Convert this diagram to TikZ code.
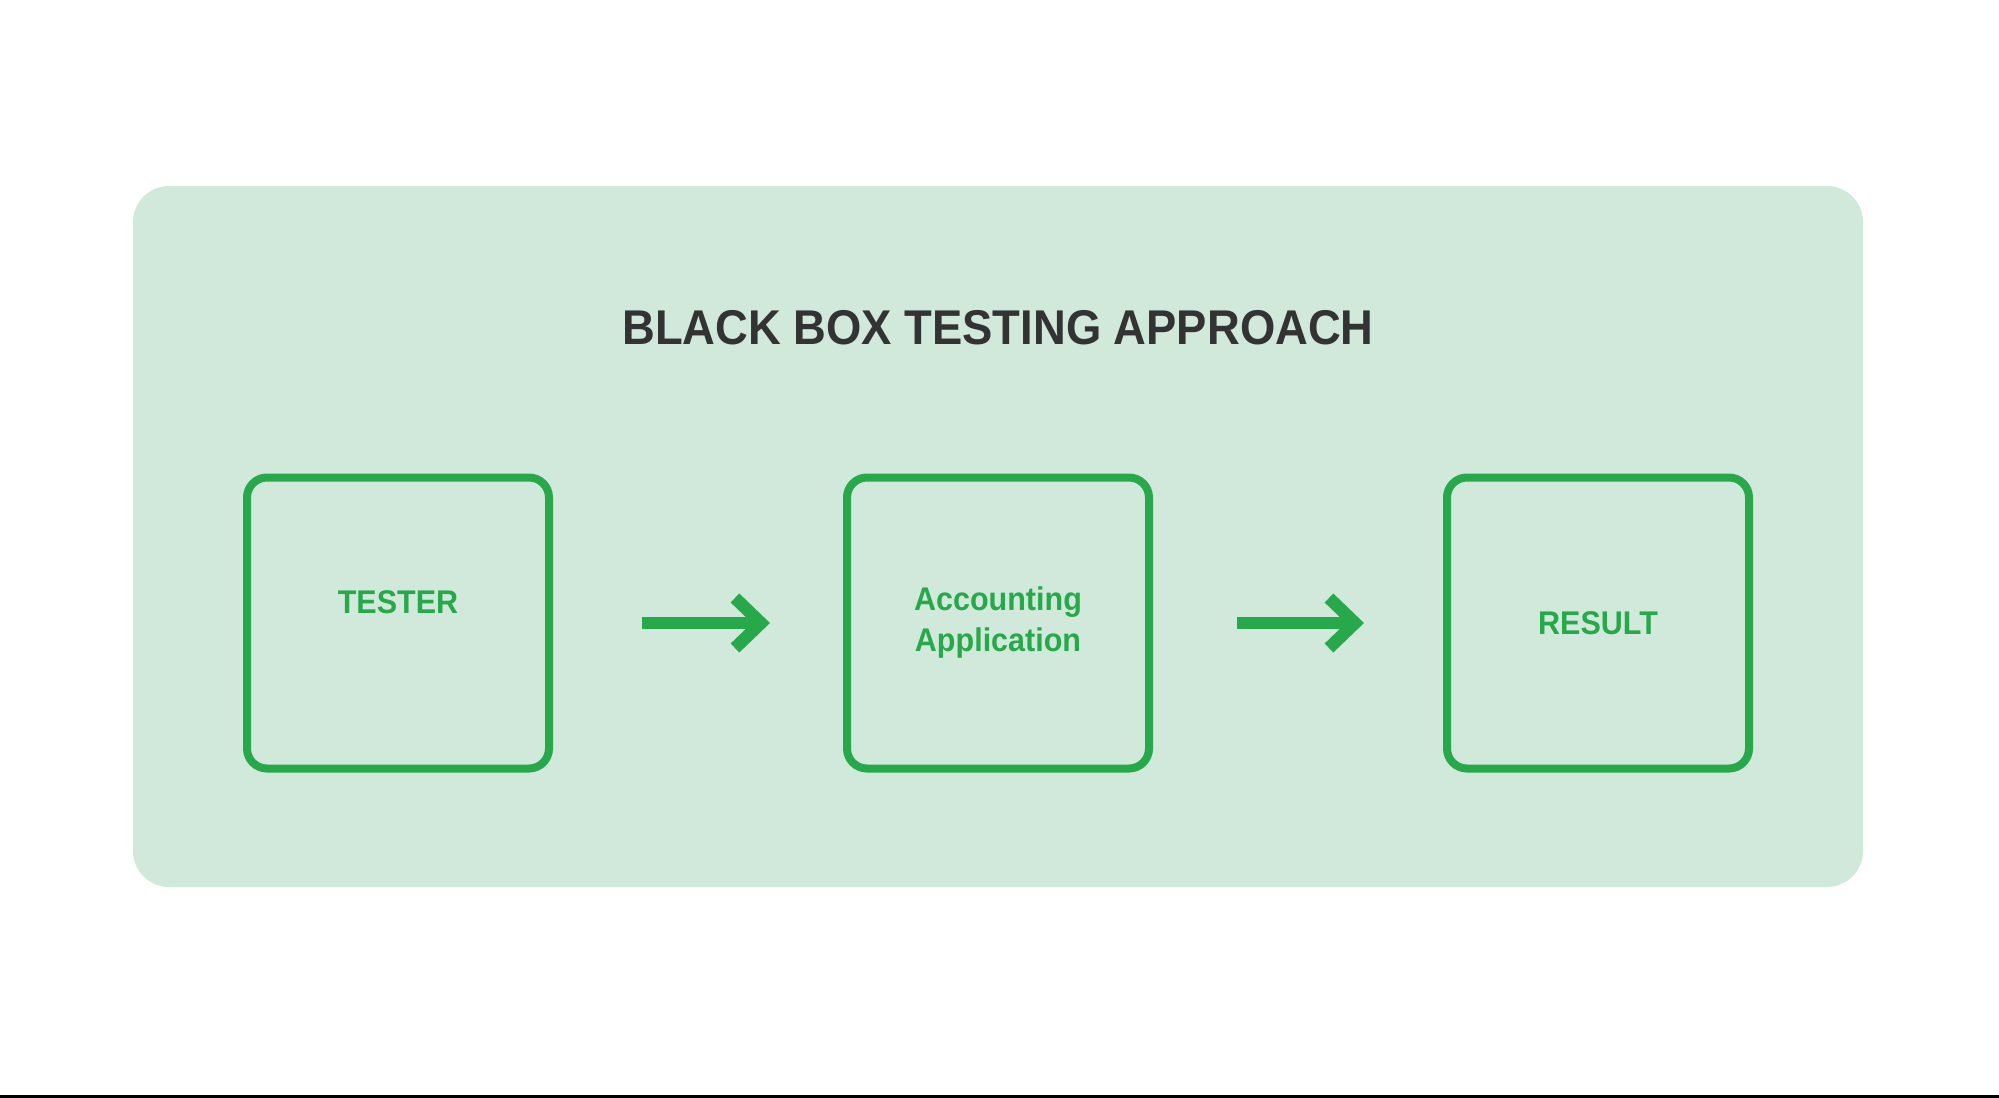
\documentclass[tikz,border=0pt]{standalone}
\usepackage{fontspec}
\setmainfont{Liberation Sans}[FakeStretch=0.93]
\usetikzlibrary{positioning, arrows.meta}
\usepackage{xcolor}
\definecolor{panelgreen}{HTML}{D0E9DA}
\definecolor{boxgreen}{HTML}{27A84A}
\definecolor{titlegray}{HTML}{333333}

\begin{document}
\begin{tikzpicture}[
    x=0.5pt, y=-0.5pt,
    node distance=145pt,
    panel/.style={
        fill=panelgreen,
        rounded corners=18pt,
        minimum width=865pt,
        minimum height=350.5pt,
        inner sep=0pt
    },
    heading/.style={
        text=titlegray,
        inner sep=0pt,
        font=\bfseries\fontsize{24.4}{29}\selectfont
    },
    box/.style={
        draw=boxgreen,
        line width=4pt,
        rounded corners=10pt,
        minimum width=151pt,
        minimum height=145.5pt,
        inner sep=0pt,
        align=center,
        text=boxgreen,
        font=\bfseries\fontsize{16.4}{20.5}\selectfont
    },
    arr/.style={
        -{Straight Barb[sharp, length=13pt, width=25pt]},
        draw=boxgreen,
        line width=6.25pt
    }
]
\useasboundingbox (0,0) rectangle (1999,1098);

% Background panel and title
\node[panel] (panel) at (998,536.5) {};
\node[heading] (heading) at (998,328) {BLACK BOX TESTING APPROACH};

% Boxes
\node[box] (tester) at (398,623) {TESTER\\\mbox{}};
\node[box, right=of tester] (app) {Accounting\\Application};
\node[box, right=of app] (result) {RESULT};

% Connections
\draw[arr, shorten <=44.5pt, shorten >=36.5pt] (tester) -- (app);
\draw[arr, shorten <=42pt, shorten >=39.5pt] (app) -- (result);

% Bottom rule
\draw[line width=1.5pt, black] (0,1096.5) -- (1999,1096.5);

\end{tikzpicture}
\end{document}
